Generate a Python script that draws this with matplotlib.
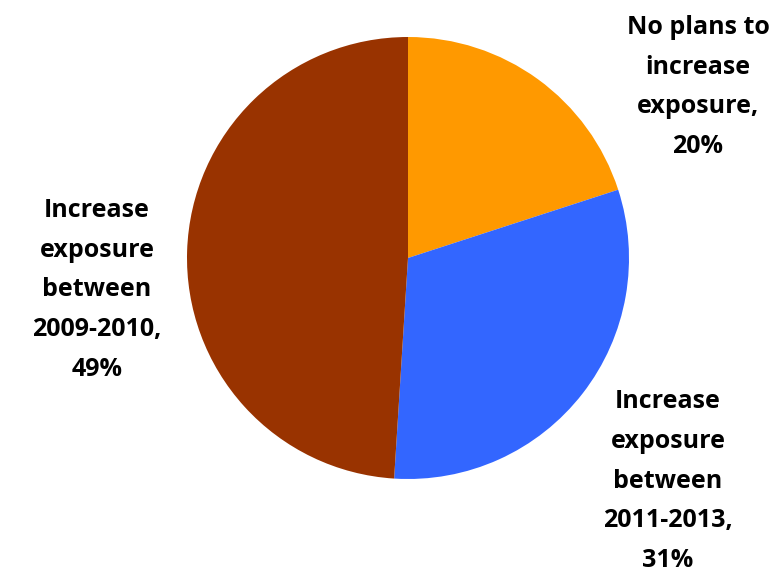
import matplotlib
matplotlib.use("Agg")
import matplotlib.pyplot as plt

categories = ["No plans to\nincrease\nexposure",
              "Increase\nexposure\nbetween\n2011-2013",
              "Increase\nexposure\nbetween\n2009-2010"]
values = [20, 31, 49]
colors = ["#FF9900", "#3366FF", "#993300"]

W, H = 773, 574
fig = plt.figure(figsize=(W / 100, H / 100), dpi=100)
cx, cy, r = 408, 258, 221
ax = fig.add_axes([(cx - r) / W, (H - cy - r) / H, 2 * r / W, 2 * r / H])
ax.pie(values, colors=colors, startangle=90, counterclock=False, radius=1,
       wedgeprops=dict(linewidth=0))
ax.set_xlim(-1, 1)
ax.set_ylim(-1, 1)
ax.set_aspect("equal")
ax.axis("off")

# label centers in pixel coordinates
label_px = [(698, 87), (668, 481), (97, 290)]
for name, v, (px, py) in zip(categories, values, label_px):
    x = (px - cx) / r
    y = (cy - py) / r
    ax.text(x, y, f"{name},\n{v}%", ha="center", va="center",
            fontsize=18, fontweight="bold", family="Open Sans",
            linespacing=1.78, clip_on=False)

fig.savefig("out.png", dpi=100)
